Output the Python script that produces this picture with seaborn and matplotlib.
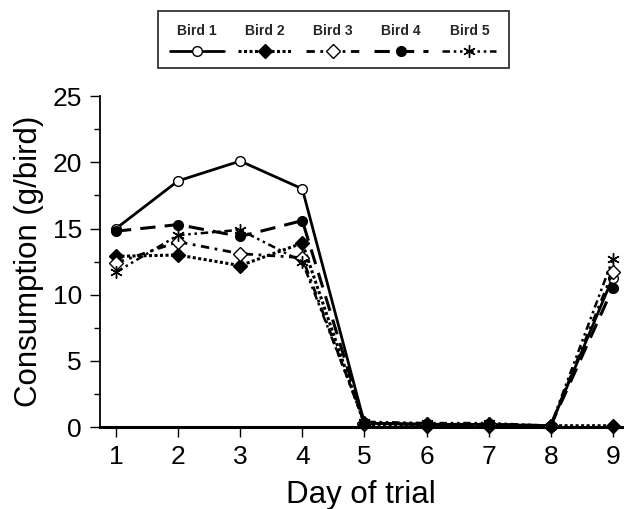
import matplotlib
matplotlib.use('Agg')
import matplotlib.pyplot as plt
import seaborn as sns
from matplotlib.offsetbox import VPacker

sns.set_style('ticks')
plt.rcParams['font.family'] = ['Liberation Sans', 'DejaVu Sans']

# Dados
days = [1, 2, 3, 4, 5, 6, 7, 8, 9]
bird1 = [15.0, 18.6, 20.1, 18.0, 0.3, 0.2, 0.2, 0.1, 11.3]
bird2 = [12.9, 13.0, 12.2, 13.9, 0.2, 0.1, 0.1, 0.1, 0.1]
bird3 = [12.4, 14.0, 13.1, 12.8, 0.3, 0.2, 0.2, 0.1, 11.7]
bird4 = [14.8, 15.3, 14.4, 15.6, 0.3, 0.2, 0.2, 0.1, 10.5]
bird5 = [11.7, 14.5, 14.9, 12.5, 0.4, 0.3, 0.3, 0.1, 12.7]
labels = ['Bird 1', 'Bird 2', 'Bird 3', 'Bird 4', 'Bird 5']

series = [bird1, bird2, bird3, bird4, bird5]
estilos = [
    dict(marker='o', markerfacecolor='white', linestyle='-', linewidth=2.0, markersize=7),
    dict(marker='D', markerfacecolor='black', linestyle=(0, (1, 0.8)), linewidth=2.2, markersize=7),
    dict(marker='D', markerfacecolor='white', linestyle=(0, (3, 2, 1, 2)), linewidth=2.0, markersize=7),
    dict(marker='o', markerfacecolor='black', linestyle=(0, (5, 3)), linewidth=2.2, markersize=7),
    dict(marker=(6, 2, 0), markerfacecolor='black', linestyle=(0, (3, 1.5, 1, 1.5, 1, 1.5)),
         linewidth=1.8, markersize=9),
]

fig = plt.figure(figsize=(6.24, 5.09), dpi=100)
ax = fig.add_axes([0.160, 0.161, 0.837, 0.650])

for vals, lab, st in zip(series, labels, estilos):
    sns.lineplot(x=days, y=vals, ax=ax, color='black', label=lab,
                 markeredgecolor='black', markeredgewidth=1.0,
                 clip_on=False, zorder=3, **st)

ax.set_xlim(0.74, 9.15)
ax.set_ylim(0, 25)
ax.set_xticks(days)
ax.set_yticks([0, 5, 10, 15, 20, 25])
ax.set_yticks([2.5, 7.5, 12.5, 17.5, 22.5], minor=True)
ax.tick_params(axis='both', which='major', labelsize=19, length=7, width=1.0, pad=6,
               color='black', labelcolor='black')
ax.tick_params(axis='y', which='minor', length=4, width=1.0, color='black')
ax.set_xlabel('Day of trial', fontsize=22.5, color='black', labelpad=8)
ax.set_ylabel('Consumption (g/bird)', fontsize=22.5, color='black', labelpad=6)
sns.despine(ax=ax)
ax.spines['left'].set_linewidth(1.3)
ax.spines['bottom'].set_linewidth(2.2)
ax.spines['left'].set_color('black')
ax.spines['bottom'].set_color('black')

# Legenda com texto acima do símbolo
handles, labs = ax.get_legend_handles_labels()
ax.get_legend().remove()
leg = fig.legend(handles, labs, loc='upper center', bbox_to_anchor=(0.534, 0.992), ncol=5,
                 markerfirst=False, frameon=True, fancybox=False, edgecolor='black',
                 handlelength=3.9, columnspacing=1.0, borderpad=0.9,
                 prop={'size': 10, 'weight': 'bold'})
leg.get_frame().set_linewidth(1.3)
for col in leg._legend_handle_box.get_children():
    for item in col.get_children():
        item.__class__ = VPacker
        item.align = 'center'
        item.sep = 6

fig.savefig('out.png', dpi=100)
